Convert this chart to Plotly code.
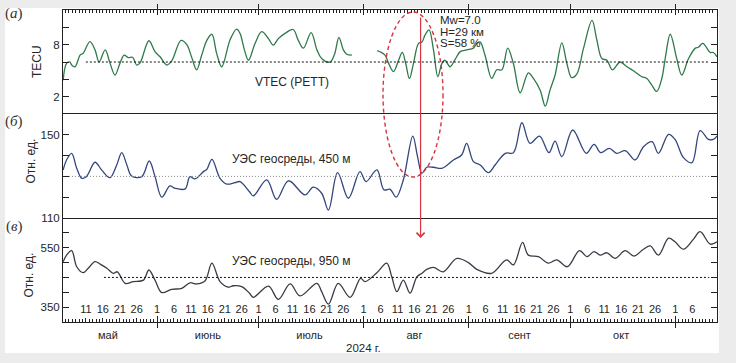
import pandas as pd
import plotly.graph_objects as go

# ---------------- data ----------------
START = pd.Timestamp("2024-05-01")          # day 0 of the day offsets below

# (a) VTEC, station PETT, TECU  (None = data gap)
day_a = [3.3, 4.3, 5.3, 5.8, 6.8, 8.3, 9.2, 11.2, 12.7, 13.9, 15.7, 17.1, 18.6, 20.1, 21.3,
         22.5, 23.8, 25.0, 26.0, 28.6, 30.4, 31.9, 33.9, 35.3, 38.1, 39.8, 41.3, 42.7, 44.2,
         45.7, 47.2, 48.6, 50.1, 52.6, 54.5, 55.5, 56.8, 58.0, 59.9, 61.9, 63.9, 65.3, 66.8,
         68.8, 71.2, 72.7, 74.2, 76.5, 78.2, 79.6, 82.1, 83.4, 84.7, 86.0, 87.0, 88.5, 92.0,
         96.0, 98.3, 99.3, 100.8, 102.3, 103.4, 104.4, 105.5, 106.7, 108.2, 109.2, 110.1,
         111.3, 112.6, 113.9, 115.1, 116.0, 117.5, 119.0, 120.5, 122.4, 124.4, 125.5, 126.4,
         127.8, 129.8, 131.3, 132.8, 134.5, 136.2, 138.2, 140.6, 142.1, 144.1, 145.6, 147.0,
         148.5, 150.5, 152.0, 153.4, 154.9, 156.9, 159.4, 160.8, 162.3, 163.8, 165.4, 167.7,
         169.7, 171.6, 174.1, 175.6, 177.1, 178.5, 180.0, 181.0, 182.5, 184.4, 185.9, 187.9,
         189.9, 190.8, 192.1, 194.3, 195.2, 196.3]
vtec = [3.9, 5.85, 6.0, 5.65, 5.45, 6.8, 7.0, 8.35, 7.4, 6.0, 7.4, 5.9, 4.5, 5.9, 6.8,
        6.5, 6.55, 5.65, 5.9, 8.45, 7.2, 6.6, 5.65, 6.1, 8.5, 8.0, 6.45, 5.1, 6.8,
        8.5, 9.2, 7.0, 5.45, 8.6, 9.8, 9.3, 7.4, 6.2, 8.1, 9.5, 8.7, 7.95, 8.7,
        9.3, 9.75, 8.5, 7.6, 9.4, 7.4, 6.4, 6.0, 6.9, 8.85, 7.4, 6.9, 6.8, None,
        7.3, 6.8, 5.9, 4.9, 6.2, 7.1, 5.85, 4.1, 5.85, 8.15, 8.3, 9.1,
        9.7, 7.4, 4.3, 5.85, 6.2, 5.45, 6.3, 7.2, 7.4, 7.6, 8.2, 8.3,
        6.8, 4.1, 5.1, 5.1, 7.6, 5.8, 2.45, 4.75, 4.1, 2.75, 0.9, 2.75,
        4.5, 8.2, 5.8, 4.2, 4.6, 7.6, 10.8, 8.6, 6.4, 6.2, 5.1, 6.0,
        5.45, 5.0, 4.3, 4.1, 3.3, 2.6, 4.1, 6.4, 9.2, 6.4, 4.5, 6.4,
        7.6, 7.7, 8.15, 7.1, 7.1, 6.6]

# (b) apparent resistivity of the geo-medium, 450 m, rel. units
day_b = [3.3, 4.3, 5.8, 7.3, 8.8, 10.2, 12.7, 14.7, 17.1, 19.1, 20.6, 22.1, 23.5, 26.5,
         28.7, 30.4, 32.4, 34.8, 36.3, 39.3, 40.7, 42.2, 44.7, 45.7, 47.2, 49.6, 51.6,
         54.0, 55.5, 58.3, 59.4, 63.4, 66.3, 69.8, 74.7, 77.1, 79.6, 81.6, 84.3, 87.5,
         90.9, 92.7, 95.9, 98.0, 99.8, 101.6, 103.7, 106.5, 107.9, 109.2, 110.6, 112.6,
         115.1, 118.5, 120.9, 122.4, 124.4, 126.4, 128.8, 130.8, 133.8, 136.2, 138.7,
         141.1, 143.9, 146.7, 148.5, 150.5, 153.7, 157.7, 160.0, 162.0, 164.5, 166.7,
         169.2, 172.1, 174.6, 177.1, 179.0, 182.0, 183.9, 186.4, 188.9, 191.3, 193.8,
         195.2, 196.3]
res450 = [133.1, 137.9, 141.1, 133.9, 129.1, 130.0, 136.8, 133.0, 129.4, 135.5, 141.4, 135.5,
          130.2, 129.9, 137.4, 130.0, 120.0, 125.4, 124.3, 124.0, 129.9, 128.8, 132.3, 133.4,
          138.2, 129.1, 126.3, 127.0, 127.5, 122.6, 120.6, 128.3, 119.0, 127.9, 121.1, 124.8,
          121.9, 113.8, 131.8, 119.5, 132.3, 127.5, 133.1, 123.5, 123.8, 120.0, 128.3, 149.4,
          139.5, 131.5, 134.4, 134.4, 133.9, 137.9, 140.3, 145.9, 137.1, 135.5, 131.8, 135.5,
          141.1, 141.4, 155.8, 145.9, 149.4, 141.4, 147.0, 139.5, 152.3, 141.1, 145.4, 141.4,
          143.5, 141.1, 142.4, 137.9, 144.3, 146.7, 141.1, 150.2, 147.8, 139.0, 136.6, 152.0,
          147.8, 147.8, 149.4]

# (c) apparent resistivity of the geo-medium, 950 m, rel. units
day_c = [3.3, 4.3, 5.8, 7.3, 9.2, 10.7, 12.7, 14.2, 16.2, 18.1, 19.3, 21.6, 24.0, 27.0,
         28.6, 30.4, 32.4, 35.3, 38.3, 40.7, 42.7, 45.2, 47.2, 49.6, 52.1, 53.5, 56.0,
         58.3, 59.4, 63.9, 66.8, 70.3, 73.2, 78.2, 79.6, 81.6, 84.5, 88.0, 91.1, 92.4,
         95.9, 98.8, 100.3, 101.8, 103.7, 105.7, 107.7, 109.2, 110.6, 112.6, 115.5, 119.5,
         122.9, 125.4, 129.8, 134.2, 136.2, 138.9, 140.6, 143.6, 146.5, 149.0, 152.1,
         155.7, 157.9, 160.0, 161.8, 163.8, 166.2, 169.2, 171.8, 174.6, 176.6, 179.0,
         182.0, 183.9, 186.4, 189.3, 191.3, 194.3, 196.3]
res950 = [503, 525, 540, 486, 466, 481, 503, 495, 481, 464, 469, 430, 436, 441,
          475, 441, 399, 410, 413, 432, 428, 439, 498, 436, 417, 422, 419,
          397, 383, 421, 376, 428, 388, 430, 402, 360, 430, 383, 447, 436,
          466, 498, 452, 402, 441, 397, 452, 464, 477, 484, 469, 514,
          500, 477, 464, 509, 492, 568, 525, 520, 498, 509, 486,
          540, 520, 537, 525, 533, 514, 540, 522, 545, 556, 525,
          582, 570, 545, 578, 604, 562, 570]

# background (mean) levels drawn dotted
mean_levels = [6, 130, 450]
mean_start = ["2024-05-11", "2024-05-04 06:00", "2024-05-16 08:00"]
mean_end = "2024-11-11"

# axis ticks / labels
x_range = ["2024-05-04 06:00", "2024-11-13 07:00"]
month_starts = ["2024-06-01", "2024-07-01", "2024-08-01", "2024-09-01", "2024-10-01", "2024-11-01"]
month_label_pos = ["2024-05-17 12:00", "2024-06-16", "2024-07-16", "2024-08-16", "2024-09-16", "2024-10-16"]
month_names = ["май", "июнь", "июль", "авг", "сент", "окт"]
label_months = ["2024-05", "2024-06", "2024-07", "2024-08", "2024-09", "2024-10", "2024-11"]
label_days = [1, 6, 11, 16, 21, 26]

yticks_a = [2, 4, 6, 8, 10]
ylabels_a = ["2", "", "", "8", ""]
yticks_b = [110, 120, 130, 140, 150]
ylabels_b = ["110", "", "", "", "150"]
yticks_c = [350, 400, 450, 500, 550, 600]
ylabels_c = ["350", "", "", "", "550", ""]

quake_date = "2024-08-17 19:10"
quake_text = ["Mw=7.0", "H=29 км", "S=58 %"]

# ---------------- helpers ----------------
def to_dates(days):
    return [START + pd.Timedelta(days=d) for d in days]

x_lo = pd.Timestamp(x_range[0])
daily = [d for d in pd.date_range("2024-05-05", "2024-11-13", freq="D")]
day_tick_vals, day_tick_text = [], []
for m in label_months:
    for d in label_days:
        t = pd.Timestamp(f"{m}-{d:02d}")
        if x_lo + pd.Timedelta(days=3) < t <= pd.Timestamp("2024-11-06"):
            day_tick_vals.append(t)
            day_tick_text.append(str(d))

FONT = "Liberation Sans, Arial, sans-serif"
AX = "#222222"
TXT = "#262626"
GREEN = "#2f7a4a"
BLUE = "#34467c"
DARK = "#3b3b46"
RED = "#d8333f"

# pixel -> paper helpers (plot area: x 63..717, y 10..322)
def px(xp):
    return (xp - 63) / 654.0

def py(yp):
    return (322 - yp) / 312.0

fig = go.Figure()
fig.add_trace(go.Scatter(x=to_dates(day_a), y=vtec, xaxis="x", yaxis="y", mode="lines",
                         line=dict(color=GREEN, width=1.3, shape="spline", smoothing=1.0),
                         connectgaps=False, hoverinfo="skip"))
fig.add_trace(go.Scatter(x=to_dates(day_b), y=res450, xaxis="x", yaxis="y2", mode="lines",
                         line=dict(color=BLUE, width=1.3, shape="spline", smoothing=1.0),
                         hoverinfo="skip"))
fig.add_trace(go.Scatter(x=to_dates(day_c), y=res950, xaxis="x", yaxis="y3", mode="lines",
                         line=dict(color=DARK, width=1.3, shape="spline", smoothing=1.0),
                         hoverinfo="skip"))
mean_styles = [dict(color="#111111", width=1, dash="2px,2px"),
               dict(color="#8a8a8a", width=1, dash="1px,2px"),
               dict(color="#111111", width=1, dash="2px,2px")]
for lvl, st, yax, sty in zip(mean_levels, mean_start, ["y", "y2", "y3"], mean_styles):
    fig.add_trace(go.Scatter(x=[st, mean_end], y=[lvl, lvl], xaxis="x", yaxis=yax,
                             mode="lines", line=sty, hoverinfo="skip"))

# empty carrier traces so that every overlay axis gets drawn
for xa, ya in [("x2", "y2"), ("x3", "y"), ("x4", "y"), ("x5", "y3"), ("x6", "y3"),
               ("x7", "y3"), ("x8", "y3"), ("x9", "y"), ("x10", "y3")]:
    fig.add_trace(go.Scatter(x=[None], y=[None], xaxis=xa, yaxis=ya, mode="lines",
                             hoverinfo="skip", showlegend=False))

common_x = dict(type="date", range=x_range, domain=[0, 1], showgrid=False,
                zeroline=False, fixedrange=True, automargin=False)
tfont = dict(family=FONT, size=11, color=TXT)

layout = dict(
    template="none",
    width=736, height=363,
    margin=dict(l=63, r=19, t=10, b=41, pad=0),
    paper_bgcolor="#ececec", plot_bgcolor="white",
    showlegend=False,
    font=dict(family=FONT, size=11, color=TXT),
    xaxis=dict(**common_x, anchor="y3", showline=True, linecolor=AX, linewidth=1,
               tickmode="array", tickvals=month_starts, ticks="outside", ticklen=5,
               tickcolor=AX, showticklabels=False),
    xaxis2=dict(**common_x, overlaying="x", anchor="y2", showline=True, mirror=True,
                linecolor=AX, linewidth=1, ticks="", showticklabels=False),
    xaxis3=dict(**common_x, overlaying="x", anchor="y", side="top", showline=True,
                linecolor=AX, linewidth=1, tickmode="array", tickvals=month_starts,
                ticks="outside", ticklen=5, tickcolor=AX, showticklabels=False),
    xaxis4=dict(**common_x, overlaying="x", anchor="y", side="top", tickmode="array",
                tickvals=daily, ticks="inside", ticklen=3, tickcolor=AX, showticklabels=False),
    xaxis5=dict(**common_x, overlaying="x", anchor="y3", tickmode="array",
                tickvals=daily, ticks="inside", ticklen=3, tickcolor=AX, showticklabels=False),
    # day-of-month numbers, drawn just above the bottom axis
    xaxis6=dict(**common_x, overlaying="x", anchor="free", position=py(301), side="bottom",
                tickmode="array", tickvals=day_tick_vals, ticktext=day_tick_text,
                ticks="", showline=False, tickfont=tfont),
    xaxis7=dict(**common_x, overlaying="x", anchor="y3", tickmode="array",
                tickvals=month_label_pos, ticktext=month_names, ticks="",
                ticklabelstandoff=5, tickfont=tfont),
    xaxis8=dict(**common_x, overlaying="x", anchor="y3", tickmode="array",
                tickvals=month_starts, ticks="inside", ticklen=6, tickcolor=AX,
                showticklabels=False),
    xaxis9=dict(**common_x, overlaying="x", anchor="y", side="top", tickmode="array",
                tickvals=month_starts, ticks="inside", ticklen=5, tickcolor=AX,
                showticklabels=False),
    xaxis10=dict(**common_x, overlaying="x", anchor="y3", tickmode="array",
                 tickvals=day_tick_vals, ticks="inside", ticklen=4.5, tickcolor=AX,
                 showticklabels=False),
)
ycommon = dict(anchor="x", showline=True, linecolor=AX, linewidth=1, mirror="ticks",
               ticks="inside", ticklen=6, tickcolor=AX, showgrid=False, zeroline=False,
               tickmode="array", tickfont=dict(family=FONT, size=11.5, color=TXT),
               fixedrange=True, automargin=False)
layout["yaxis"] = dict(**ycommon, domain=[2 / 3, 1], range=[0, 12],
                       tickvals=yticks_a, ticktext=ylabels_a)
layout["yaxis2"] = dict(**ycommon, domain=[1 / 3, 2 / 3], range=[110, 160],
                        tickvals=yticks_b, ticktext=ylabels_b)
layout["yaxis3"] = dict(**ycommon, domain=[0, 1 / 3], range=[300, 650],
                        tickvals=yticks_c, ticktext=ylabels_c)
fig.update_layout(**layout)

# white figure panel
fig.add_shape(type="rect", xref="paper", yref="paper", x0=px(5), x1=px(719),
              y0=py(353), y1=py(8), fillcolor="white", line=dict(width=0), layer="below")

# red dashed ellipse around the event
fig.add_shape(type="circle", xref="x", yref="paper",
              x0="2024-08-06 17:00", x1="2024-08-24 10:00", y0=py(177), y1=py(12),
              line=dict(color=RED, width=1.4, dash="4px,3px"), layer="above")

ann = []
# event line with arrow
ann.append(dict(x=quake_date, y=py(238), xref="x", yref="paper", text="", showarrow=True,
                ax=0, ay=-222, axref="pixel", ayref="pixel", arrowhead=4, arrowsize=1.3,
                arrowwidth=1.2, arrowcolor=RED, standoff=0))
for txt, yp in zip(quake_text, [20, 32, 43.5]):
    ann.append(dict(x="2024-08-23 00:00", y=py(yp), xref="x", yref="paper", text=txt,
                    showarrow=False, xanchor="left", yanchor="middle",
                    font=dict(family=FONT, size=11.5, color=TXT)))
# curve captions
ann.append(dict(x="2024-07-10 17:00", y=3.7, xref="x", yref="y", text="VTEC (PETT)",
                showarrow=False, xanchor="center", yanchor="middle",
                font=dict(family=FONT, size=12, color=TXT)))
ann.append(dict(x="2024-07-10 15:00", y=138.6, xref="x", yref="y2",
                text="УЭС геосреды, 450 м", showarrow=False, xanchor="center",
                yanchor="middle", font=dict(family=FONT, size=12, color=TXT)))
ann.append(dict(x="2024-07-10 15:00", y=506, xref="x", yref="y3",
                text="УЭС геосреды, 950 м", showarrow=False, xanchor="center",
                yanchor="middle", font=dict(family=FONT, size=12, color=TXT)))
# panel letters
for letter, yp in zip(["а", "б", "в"], [14, 122, 226]):
    ann.append(dict(x=px(14), y=py(yp), xref="paper", yref="paper",
                    text=f"(<i>{letter}</i>)", showarrow=False,
                    xanchor="center", yanchor="middle",
                    font=dict(family="Liberation Serif, DejaVu Serif, serif", size=15,
                              color="#333333")))
# y-axis titles
for txt, xp, yp in [("TECU", 37, 62), ("Отн. ед.", 30, 161.5), ("Отн. ед.", 28.5, 275)]:
    ann.append(dict(x=px(xp), y=py(yp), xref="paper", yref="paper", text=txt,
                    textangle=-90, showarrow=False, xanchor="center", yanchor="middle",
                    font=dict(family=FONT, size=12, color=TXT)))
# x-axis title
ann.append(dict(x="2024-08-01", y=py(348), xref="x", yref="paper", text="2024 г.",
                showarrow=False, xanchor="center", yanchor="middle",
                font=dict(family=FONT, size=11.5, color=TXT)))
fig.update_layout(annotations=ann)

# remove the browser's default 8px page margin so the figure sits at (0, 0)
fig.write_html("out.html", config={"displayModeBar": False},
               post_script="document.body.style.margin='0';document.body.style.overflow='hidden';")
